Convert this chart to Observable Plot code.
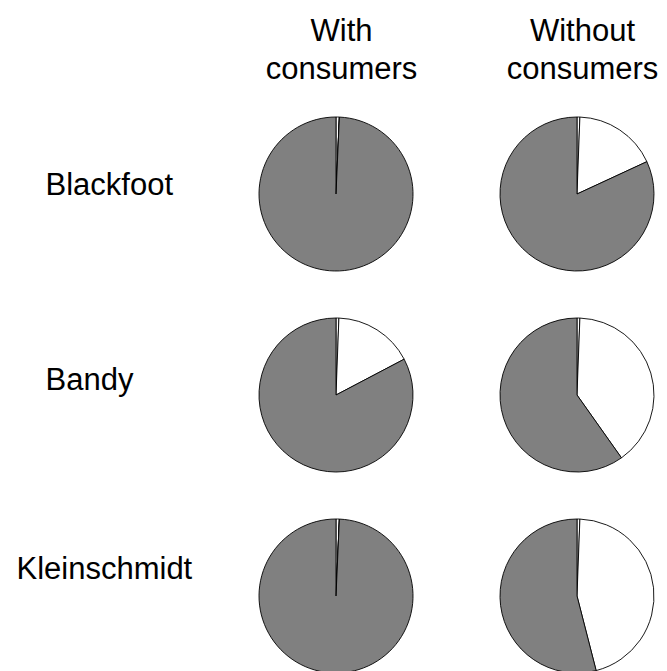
<!DOCTYPE html>
<html>
<head>
<meta charset="utf-8">
<script src="https://cdn.jsdelivr.net/npm/d3@7"></script>
<script src="https://cdn.jsdelivr.net/npm/@observablehq/plot@0.6"></script>
<style>
  html, body { margin: 0; padding: 0; background: #fff; }
  #chart svg { display: block; }
</style>
</head>
<body>
<div id="chart"></div>
<script>
// ---- data ----
const columns = ["With consumers", "Without consumers"];
const sites = ["Blackfoot", "Bandy", "Kleinschmidt"];
const categories = ["Trace", "Class B", "Class A"];
// percent of each category, per site (order of sites), clockwise from 12 o'clock
const withConsumers = [
  [0.7, 0.0, 99.3],
  [0.6, 16.7, 82.7],
  [0.7, 0.0, 99.3]
];
const withoutConsumers = [
  [0.6, 17.5, 81.9],
  [0.6, 39.6, 59.8],
  [0.6, 45.4, 54.0]
];

// ---- build table ----
const table = [];
columns.forEach((col, ci) => {
  const vals = ci === 0 ? withConsumers : withoutConsumers;
  sites.forEach((site, si) => {
    categories.forEach((cat, k) => {
      table.push({column: col, site, category: cat, value: vals[si][k]});
    });
  });
});

// ---- styles / layout ----
const color = d3.scaleOrdinal().domain(categories).range(["#ffffff", "#ffffff", "#808080"]);
const radius = 77;
const font = "'Liberation Sans', Arial, Helvetica, sans-serif";

const pies = (index, scales) => {
  const g = d3.create("svg:g");
  const arc = d3.arc().innerRadius(0).outerRadius(radius);
  const pie = d3.pie().sort(null).value(d => d.value);
  for (const col of columns) {
    for (const site of sites) {
      const rows = table.filter(d => d.column === col && d.site === site);
      g.append("g")
        .attr("transform", `translate(${scales.x(col)},${scales.y(site)})`)
        .selectAll("path")
        .data(pie(rows))
        .join("path")
        .attr("d", arc)
        .attr("fill", d => color(d.data.category))
        .attr("stroke", "#000")
        .attr("stroke-width", 0.9)
        .attr("stroke-linejoin", "round");
    }
  }
  return g.node();
};

const labelOffsets = {Blackfoot: [45, 0], Bandy: [45, -6], Kleinschmidt: [16, -18]};

const chart = Plot.plot({
  width: 667,
  height: 671,
  margin: 0,
  style: {fontFamily: font, background: "#fff", color: "#000"},
  x: {type: "point", domain: columns, range: [336, 577], padding: 0, axis: null},
  y: {type: "point", domain: sites, range: [194, 596], padding: 0, axis: null},
  marks: [
    pies,
    Plot.text(columns, {
      x: d => d,
      text: d => d.replace(" ", "\n"),
      frameAnchor: "top",
      lineAnchor: "top",
      dy: 13,
      dx: 5,
      lineHeight: 1.23,
      fontSize: 31,
      fill: "#000"
    }),
    ...sites.map(site => Plot.text([site], {
      y: d => d,
      text: d => d,
      frameAnchor: "left",
      textAnchor: "start",
      lineAnchor: "bottom",
      dx: labelOffsets[site][0],
      dy: labelOffsets[site][1],
      fontSize: 31,
      fill: "#000"
    }))
  ]
});

document.getElementById("chart").append(chart);
</script>
</body>
</html>
